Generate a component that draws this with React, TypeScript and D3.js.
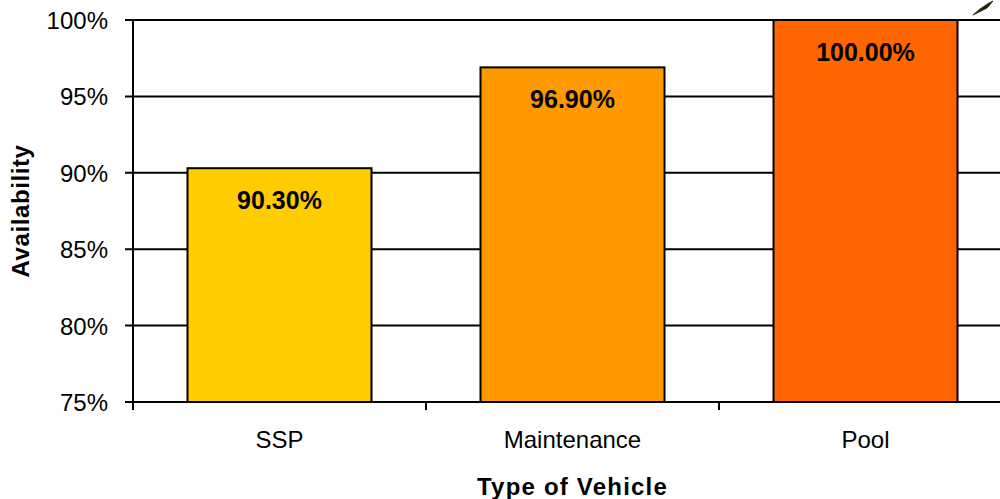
import React, { useEffect } from "react";
import * as d3 from "d3";

const categories = ["SSP", "Maintenance", "Pool"];
const availability = [90.3, 96.9, 100.0];
const barColors = ["#FFCC00", "#FF9900", "#FF6600"];
const yTicks = [75, 80, 85, 90, 95, 100];

const W = 1000;
const H = 499;
const left = 133;
const right = 1012;
const top = 20;
const bottom = 402;

export default function App() {
  useEffect(() => {
    document.body.style.margin = "0";
  }, []);

  const x = d3
    .scaleBand<string>()
    .domain(categories)
    .range([left, right])
    .paddingInner(0.372)
    .paddingOuter(0.186);
  const y = d3.scaleLinear().domain([75, 100]).range([bottom, top]);
  const step = x.step();
  const boundaries = d3.range(categories.length + 1).map((i) => left + i * step);

  const font = "Arial, 'Liberation Sans', sans-serif";

  return (
    <svg width={W} height={H} style={{ display: "block", background: "#fff" }} fontFamily={font}>
      {/* horizontal gridlines with outward ticks */}
      {yTicks.map((t) => (
        <g key={t}>
          <line x1={125} x2={W} y1={y(t)} y2={y(t)} stroke="#000" strokeWidth={2} />
          <text x={108} y={y(t) + 9} textAnchor="end" fontSize={24} fill="#000">
            {t}%
          </text>
        </g>
      ))}
      {/* bars */}
      {categories.map((c, i) => {
        const v = availability[i];
        const bx = x(c)!;
        const by = y(v);
        return (
          <g key={c}>
            <rect
              x={bx}
              y={by}
              width={x.bandwidth()}
              height={bottom - by}
              fill={barColors[i]}
              stroke="#000"
              strokeWidth={2}
            />
            <text
              x={bx + x.bandwidth() / 2}
              y={by + 41}
              textAnchor="middle"
              fontSize={25}
              fontWeight="bold"
              fill="#000"
            >
              {v.toFixed(2)}%
            </text>
            <text x={bx + x.bandwidth() / 2} y={448} textAnchor="middle" fontSize={24} fill="#000">
              {c}
            </text>
          </g>
        );
      })}
      {/* axes */}
      <line x1={left} x2={left} y1={top} y2={bottom} stroke="#000" strokeWidth={2} />
      <line x1={left} x2={W} y1={bottom} y2={bottom} stroke="#000" strokeWidth={2} />
      {boundaries.map((b, i) => (
        <line key={i} x1={b} x2={b} y1={bottom} y2={bottom + 8} stroke="#000" strokeWidth={2} />
      ))}
      {/* axis titles */}
      <text
        x={(left + right) / 2}
        y={495}
        textAnchor="middle"
        fontSize={24}
        fontWeight="bold"
        letterSpacing={1.2}
        fill="#000"
      >
        Type of Vehicle
      </text>
      <text
        transform={`translate(29, ${(top + bottom) / 2}) rotate(-90)`}
        textAnchor="middle"
        fontSize={24}
        fontWeight="bold"
        letterSpacing={0.6}
        fill="#000"
      >
        Availability
      </text>
      {/* small pointer glyph at the top-right corner */}
      <polygon points="973,15 980,9 989,3 993,1 987,8" fill="#1a2010" stroke="#2e3a18" strokeWidth={1} />
    </svg>
  );
}
